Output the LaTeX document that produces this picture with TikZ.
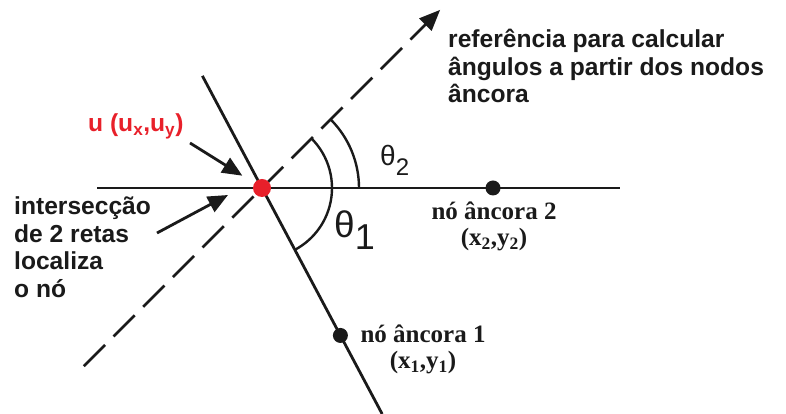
\documentclass[tikz,border=0pt]{standalone}
\usepackage{fontspec}
\setmainfont{Liberation Serif}
\setsansfont{Liberation Sans}
\usepackage{xcolor}
\definecolor{ink}{HTML}{1A1A1A}
\definecolor{hot}{HTML}{E8202A}
\usetikzlibrary{arrows.meta, positioning, calc}

\begin{document}
\begin{tikzpicture}[x=1pt, y=1pt,
  every node/.style={font=\sffamily},
  line/.style={ink, line width=2.8pt},
  guide/.style={ink, line width=2.8pt, dash pattern=on 30pt off 12pt,
                -{Triangle[length=21pt, width=17pt]}},
  pointer/.style={ink, line width=2.8pt, -{Triangle[length=20pt, width=17pt]}},
  angarc/.style={ink, line width=2.4pt},
  anchordot/.style={circle, fill=ink, inner sep=0pt, minimum size=15pt},
  note/.style={text=ink, align=left, inner sep=0pt,
               font=\sffamily\bfseries\fontsize{24.6}{27.5}\selectfont},
  coord/.style={text=ink, align=center, inner sep=0pt,
                font=\rmfamily\bfseries\fontsize{25}{26}\selectfont}
]
  \useasboundingbox (0,0) rectangle (786,414);

  \coordinate (u0) at (262,226);

  % the two lines that cross at the node
  \coordinate (h0) at (97,226);
  \coordinate (h1) at (620,226);
  \coordinate (s0) at ($(u0)+(118:127)$);
  \coordinate (s1) at ($(u0)+(-62:256)$);
  \draw[line] (h0) -- (h1);
  \draw[line] (s0) -- (s1);

  % reference direction
  \coordinate (g0) at ($(u0)+(225:252)$);
  \coordinate (g1) at ($(u0)+(45:252)$);
  \draw[guide] (g0) -- (g1);

  % angles
  \draw[angarc] ($(u0)+(45:70)$) arc[start angle=45, end angle=-62, radius=70];
  \draw[angarc] ($(u0)+(45:97)$) arc[start angle=45, end angle=0, radius=97];
  \node[text=ink, anchor=base west, inner sep=0pt] (th2) at (380,248)
    {\fontsize{28}{28}\selectfont θ\raisebox{-10pt}{\fontsize{24}{24}\selectfont 2}};
  \node[text=ink, anchor=base west, inner sep=0pt] (th1) at (334,176)
    {\fontsize{37}{37}\selectfont θ\raisebox{-12pt}{\fontsize{36}{36}\selectfont 1}};

  % nodes
  \node[anchordot] (a2) at (493,226) {};
  \node[anchordot] (a1) at ($(u0)+(-62:167)$) {};
  \node[circle, fill=hot, inner sep=0pt, minimum size=18pt] (u) at (u0) {};

  \node[coord, anchor=base] (a2lbl) at (494,168)
    {nó âncora 2\\(x\textsubscript{2},y\textsubscript{2})};
  \node[coord, anchor=base] (a1lbl) at (423,45)
    {nó âncora 1\\(x\textsubscript{1},y\textsubscript{1})};

  % labels on the left
  \node[note, text=hot, anchor=base west] (ulbl) at (88,282)
    {u (u\textsubscript{x},u\textsubscript{y})};
  \node[note, anchor=base west] (isect) at (14,116.5)
    {intersecção\\de 2 retas\\localiza\\o nó};
  \node[note, anchor=base west] (ref) at (448,311)
    {referência para calcular\\ângulos a partir dos nodos\\âncora};

  \coordinate (ut) at (190,271);
  \coordinate (it) at (157,181);
  \coordinate (ih) at (228,219);
  \draw[pointer, shorten >=14pt] (ut) -- (u);
  \draw[pointer] (it) -- (ih);
\end{tikzpicture}
\end{document}
